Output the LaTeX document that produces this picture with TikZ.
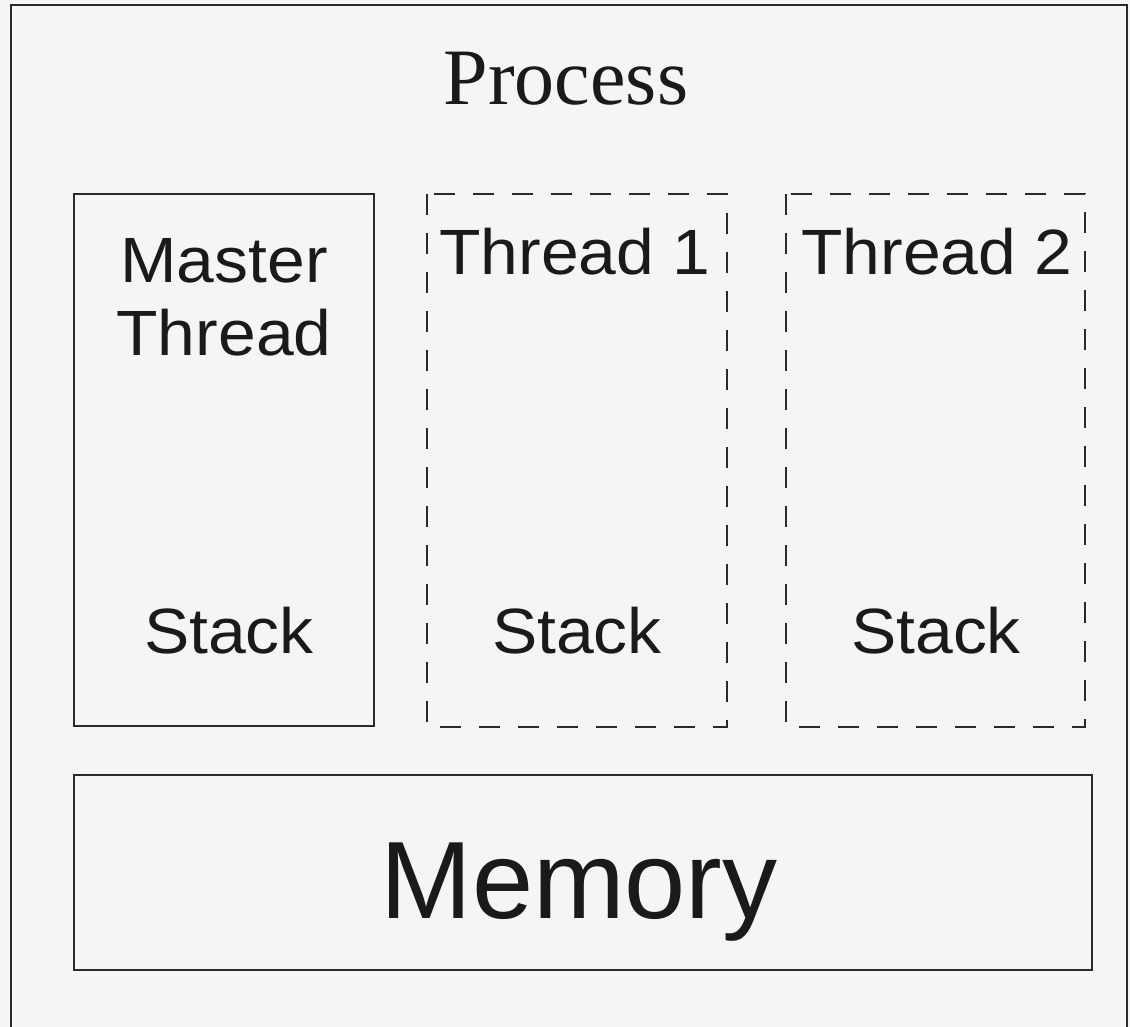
\documentclass[tikz,border=0pt]{standalone}
\usepackage{fontspec}
\setmainfont{Liberation Serif}
\newfontfamily\labelfont[FakeStretch=1.06]{Liberation Sans}
\newfontfamily\memfont{Liberation Sans}
\definecolor{paper}{HTML}{F5F5F5}
\definecolor{ink}{HTML}{1A1A1A}
\definecolor{edge}{HTML}{2A2A2A}

\begin{document}
\begin{tikzpicture}[x=1pt,y=-1pt,
  box/.style={draw=edge,line width=1.8pt},
  threadbox/.style={box,dash pattern=on 21pt off 18pt},
  lbl/.style={anchor=base,inner sep=0pt,text=ink,font=\labelfont\fontsize{64}{70}\selectfont},
  memlbl/.style={anchor=base,inner sep=0pt,text=ink,font=\memfont\fontsize{110}{120}\selectfont},
  title/.style={anchor=base,inner sep=0pt,text=ink,font=\fontsize{80}{90}\selectfont}]
  % page and outer process frame (open at the bottom edge)
  \fill[paper] (0,0) rectangle (1130,1027);
  \useasboundingbox (0,0) rectangle (1130,1027);
  \clip (0,0) rectangle (1130,1027);
  \coordinate (pbl) at (11,1040);
  \coordinate (ptl) at (11,5);
  \coordinate (ptr) at (1127,5);
  \coordinate (pbr) at (1127,1040);
  \draw[draw=edge,line width=2pt] (pbl) -- (ptl) -- (ptr) -- (pbr);

  \node[title] (process) at (566,105) {Process};

  % thread boxes
  \draw[box] (74,194) rectangle (374,726);
  \node[lbl] (master1) at (224,282) {Master};
  \node[lbl] (master2) at (224,355) {Thread};
  \node[lbl] (stack0) at (229,653) {Stack};

  \draw[threadbox] (427,194) rectangle (727,727);
  \node[lbl] (thread1) at (575,275) {Thread 1};
  \node[lbl] (stack1) at (577,653) {Stack};

  \draw[threadbox] (786,194) rectangle (1085,727);
  \node[lbl] (thread2) at (937,275) {Thread 2};
  \node[lbl] (stack2) at (936,653) {Stack};

  % shared memory
  \draw[box] (74,775) rectangle (1092,970);
  \node[memlbl] (memory) at (579,918) {Memory};
\end{tikzpicture}
\end{document}
